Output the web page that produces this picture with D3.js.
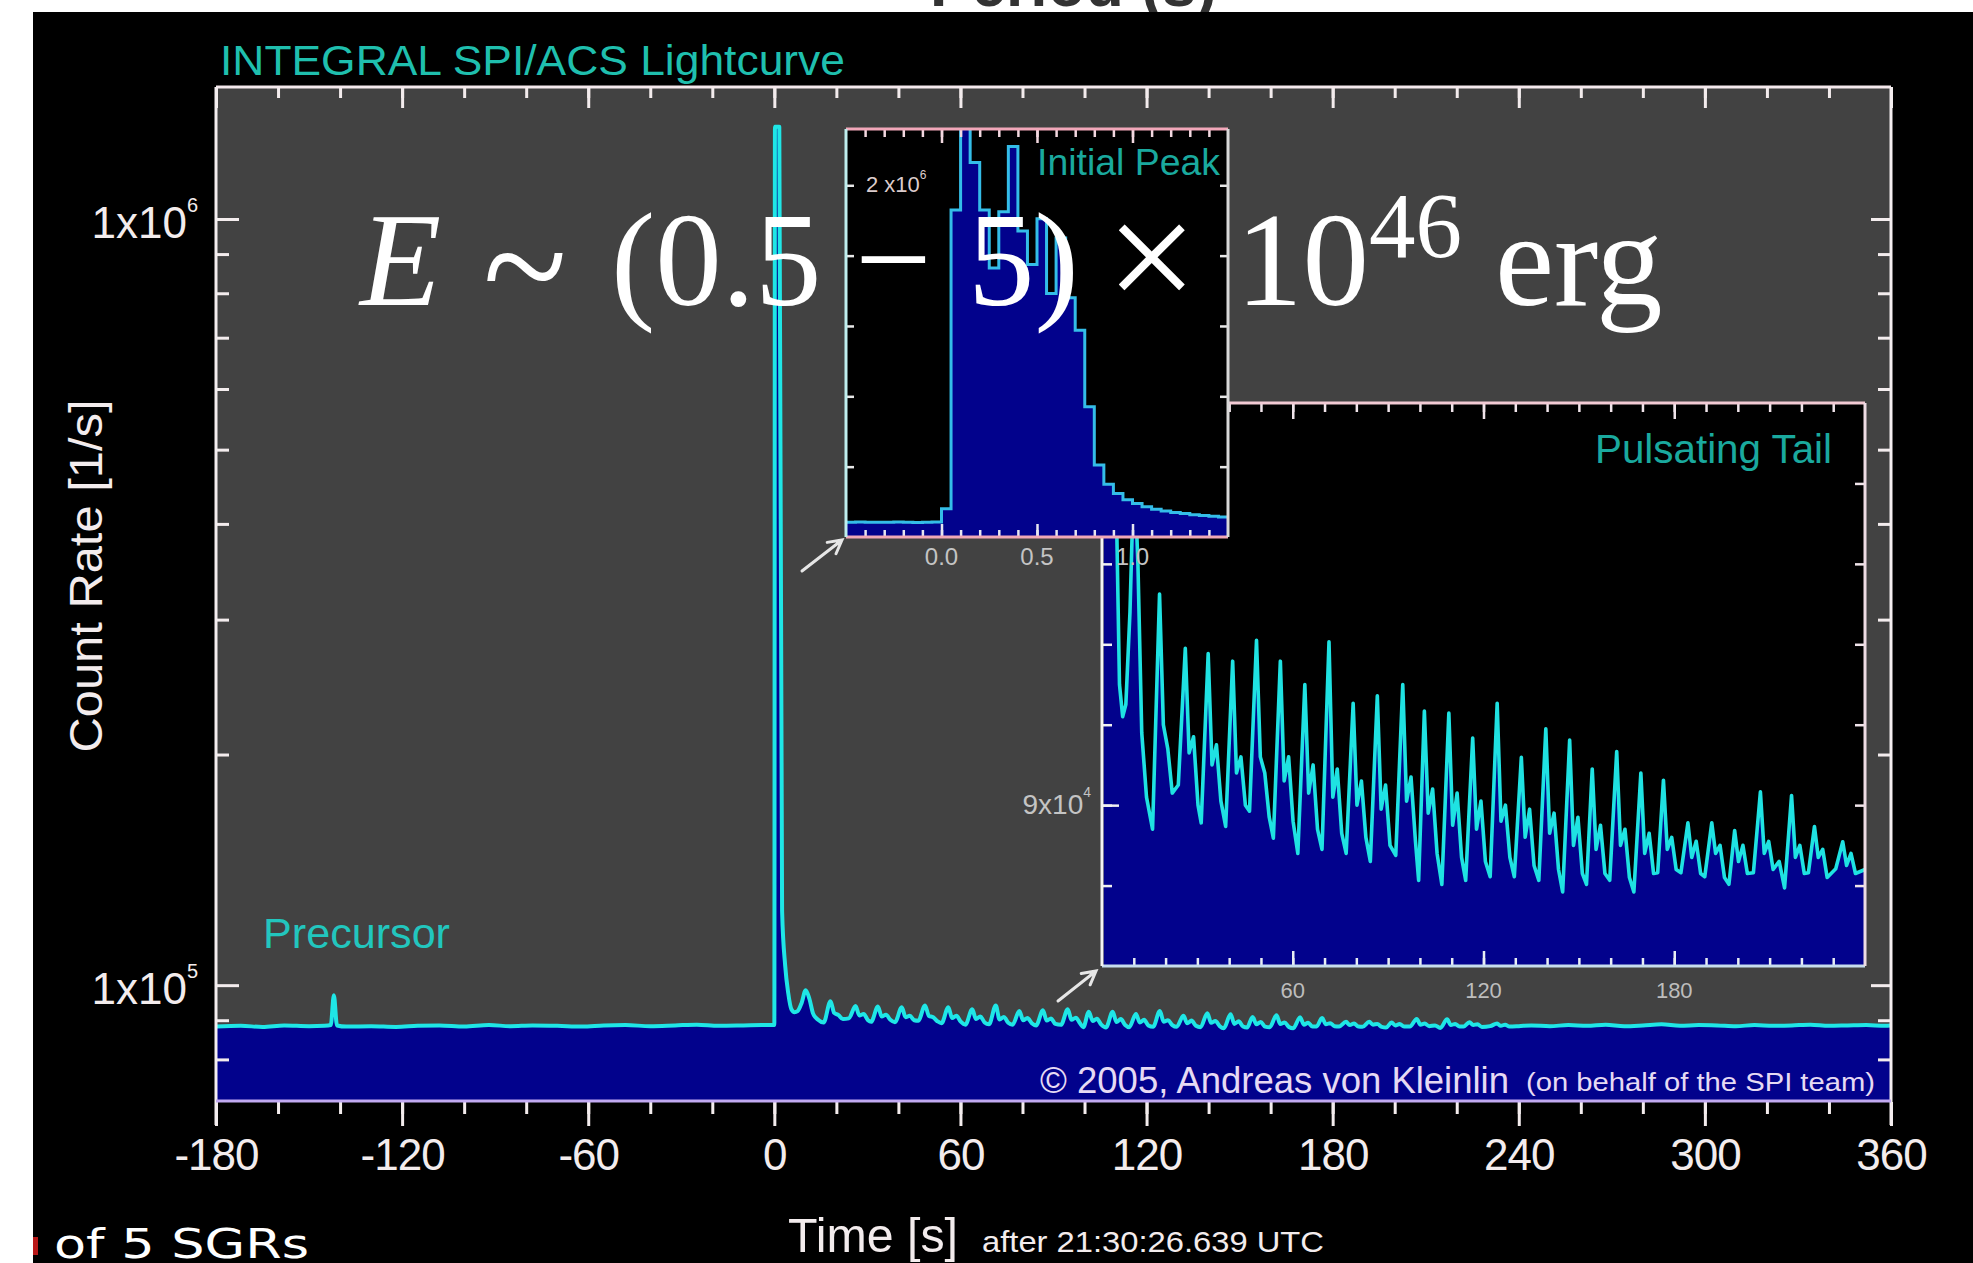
<!DOCTYPE html>
<html><head><meta charset="utf-8">
<script src="https://cdn.jsdelivr.net/npm/d3@7"></script>
<style>
html,body{margin:0;padding:0;background:#fff;}
svg{display:block;}
text{font-family:"Liberation Sans",Arial,Helvetica,sans-serif;}
</style></head><body>
<svg id="chart" width="1973" height="1263"></svg>
<script>
// ---------------- data ----------------
// Pre-burst background (time s, count rate 1/s), incl. precursor at -142 s
const preSamples = [
  [-180, 88300], [-172, 88500], [-165, 88200], [-158, 88600], [-150, 88400],
  [-145, 88500], [-143, 88700], [-142, 97000], [-141, 88600], [-138, 88300],
  [-130, 88400], [-122, 88200], [-115, 88500], [-108, 88600], [-100, 88300],
  [-92, 88700], [-85, 88400], [-78, 88600], [-70, 88500], [-62, 88300],
  [-55, 88600], [-48, 88700], [-40, 88400], [-32, 88600], [-25, 88800],
  [-18, 88500], [-10, 88600], [-4, 88700], [-0.5, 88700]
];
// Main spike at 1 s resolution
const burstSamples = [[0, 88700], [0.2, 1320000], [1.6, 1320000]];
// Pulsating tail (7.56 s period)
const tailSamples = [
  [0.5, 400000], [1.5, 180000], [2.5, 125000], [3.5, 106000], [4.5, 97500],
  [5.5, 93000], [6.5, 92200], [7.5, 92500], [8.8, 94800], [10.1, 98500],
  [11.3, 96000], [12.5, 91800], [14.0, 90200],
  [15.9, 89400], [18.1, 95250], [19.3, 92000], [20.7, 91400], [22.1, 90300],
  [24.0, 90500], [26.2, 93900], [27.4, 91300], [28.8, 91700], [30.2, 90000],
  [31.2, 89560], [33.4, 93770], [34.6, 91000], [36.0, 91500], [37.4, 90100],
  [38.9, 89470], [41.1, 93580], [42.3, 90800], [43.7, 91200], [45.1, 90000],
  [46.4, 89850], [48.6, 94100], [49.8, 91200], [51.2, 90800], [52.6, 89700],
  [53.9, 89180], [56.1, 93580], [57.3, 90600], [58.7, 91200], [60.1, 89600],
  [61.6, 88800], [63.8, 93000], [65.0, 90300], [66.4, 91000], [67.8, 89400],
  [69.2, 88900], [71.4, 94060], [72.6, 90200], [74.0, 90900], [75.4, 89300],
  [76.8, 88800], [79.0, 92530], [80.2, 90000], [81.6, 90600], [83.0, 89200],
  [84.4, 88600], [86.6, 92720], [87.8, 89900], [89.2, 90500], [90.6, 89000],
  [92.4, 88750], [94.6, 93000], [95.8, 90100], [97.2, 90700], [98.6, 89100],
  [99.6, 88130], [101.4, 92340], [102.6, 89800], [104.0, 90400], [105.4, 88800],
  [106.9, 88030], [109.1, 92290], [110.3, 89500], [111.7, 90300], [113.1, 88700],
  [114.4, 88130], [116.6, 91670], [117.8, 89400], [119.2, 90100], [120.6, 88600],
  [122.1, 88220], [124.3, 92530], [125.5, 89600], [126.9, 90000], [128.3, 88700],
  [129.7, 88220], [131.9, 91190], [133.1, 89200], [134.5, 89900], [135.9, 88500],
  [137.4, 88130], [139.6, 91900], [140.8, 89300], [142.2, 89800], [143.6, 88400],
  [144.9, 87840], [147.1, 91620], [148.3, 89000], [149.7, 89700], [151.1, 88300],
  [152.4, 88030], [154.2, 90900], [155.4, 88900], [156.8, 89500], [158.2, 88300],
  [159.7, 88130], [161.9, 91330], [163.1, 89000], [164.5, 89400], [165.9, 88200],
  [167.3, 87840], [169.5, 90800], [170.7, 88800], [172.1, 89300], [173.5, 88300],
  [174.8, 88320], [176.6, 90620], [177.8, 88900], [179.2, 89200], [180.6, 88400],
  [182.1, 88320], [184.3, 89560], [185.5, 88700], [186.9, 89100], [188.3, 88300],
  [189.6, 88220], [191.8, 89560], [193.0, 88800], [194.4, 89000], [195.8, 88200],
  [197.2, 88030], [199.0, 89370], [200.2, 88600], [201.6, 89000], [203.0, 88300],
  [204.9, 88320], [207.1, 90330], [208.3, 88800], [209.7, 89100], [211.1, 88400],
  [213.0, 88600],
  [214.7, 87940], [216.9, 90240], [218.1, 88700], [219.5, 89000], [220.9, 88300],
  [222.2, 88320], [224.1, 89470], [225.3, 88700], [226.7, 88900], [228.1, 88200],
  [230.8, 88420], [233.0, 89090], [234.2, 88500], [235.6, 88800], [237.0, 88300],
  [240.0, 88400]
];
// Late background
const lateSamples = [
  [244, 88600], [250, 88400], [256, 88700], [262, 88500], [268, 88800],
  [274, 88400], [280, 88600], [286, 88900], [292, 88500], [298, 88700],
  [304, 88600], [310, 88400], [316, 88700], [322, 88500], [328, 88600],
  [334, 88800], [340, 88500], [346, 88600], [352, 88700], [358, 88500], [360, 88600]
];
// Initial peak, 50 ms bins
const peakBinStart = [-0.50,-0.45,-0.40,-0.35,-0.30,-0.25,-0.20,-0.15,-0.10,-0.05,
  0.00,0.05,0.10,0.15,0.20,0.25,0.30,0.35,0.40,0.45,
  0.50,0.55,0.60,0.65,0.70,0.75,0.80,0.85,0.90,0.95,
  1.00,1.05,1.10,1.15,1.20,1.25,1.30,1.35,1.40,1.45];
const peakRate = [84000,85000,83500,84500,84000,85500,84000,83000,84500,85000,
  160000,1860000,2450000,2130000,1860000,1530000,1850000,2220000,1740000,1550000,
  1810000,1385000,1700000,1360000,1175000,740000,410000,300000,248000,212000,
  190000,172000,158000,148000,140000,133000,127000,122000,118000,114000];

// ticks and labels
const mainXTicks = [-180, -120, -60, 0, 60, 120, 180, 240, 300, 360];
const mainYTicks = [1e5, 1e6];
const mainYExp = ["5", "6"];
const mainYMinor = [80000, 90000, 200000, 300000, 400000, 500000, 600000, 700000, 800000, 900000];
const tailXTicks = [60, 120, 180];
const tailYTicks = [88000, 90000, 92000, 94000, 96000, 98000];
const peakXTicks = [0.0, 0.5, 1.0];
const peakXLabels = ["0.0", "0.5", "1.0"];
const peakYTicks = [400000, 800000, 1200000, 1600000, 2000000];

// ---------------- drawing ----------------
const W = 1973, H = 1263;
const svg = d3.select("#chart");
const defs = svg.append("defs");

svg.append("rect").attr("width", W).attr("height", H).attr("fill", "#fff");
svg.append("text").text("Period (s)").attr("x", 930).attr("y", 6)
  .attr("font-size", 64).attr("font-weight", "bold").attr("fill", "#333")
  .attr("textLength", 287).attr("lengthAdjust", "spacingAndGlyphs");
svg.append("rect").attr("x", 33).attr("y", 12).attr("width", W - 33).attr("height", H - 12).attr("fill", "#000");
svg.append("rect").attr("x", 33).attr("y", 1237).attr("width", 5).attr("height", 18).attr("fill", "#b81818");

const WHITE = "#f3eced";
const M = {x0: 216, x1: 1891, y0: 87, y1: 1101};
const x = d3.scaleLinear().domain([-180, 360]).range([M.x0, M.x1]);
const y = d3.scaleLog().domain([70600, 1487000]).range([M.y1, M.y0]);

svg.append("rect").attr("x", M.x0).attr("y", M.y0).attr("width", M.x1 - M.x0)
  .attr("height", M.y1 - M.y0).attr("fill", "#424242");

defs.append("clipPath").attr("id", "clipMain").append("rect")
  .attr("x", M.x0).attr("y", M.y0).attr("width", M.x1 - M.x0).attr("height", M.y1 - M.y0);

const mainSeries = []
  .concat(preSamples)
  .concat(burstSamples)
  .concat(tailSamples.filter(d => d[0] >= 2.5))
  .concat(lateSamples);

const gMain = svg.append("g").attr("clip-path", "url(#clipMain)");
gMain.append("path").datum(mainSeries)
  .attr("d", d3.area().x(d => x(d[0])).y0(M.y1).y1(d => y(d[1])))
  .attr("fill", "#02028c");
gMain.append("path").datum(mainSeries)
  .attr("d", d3.line().curve(d3.curveMonotoneX).x(d => x(d[0])).y(d => y(d[1])))
  .attr("fill", "none").attr("stroke", "#1fe6e6").attr("stroke-width", 4)
  .attr("stroke-linejoin", "round");

function tickStyle(sel, color, w) {
  sel.select(".domain").remove();
  sel.selectAll(".tick line").attr("stroke", color).attr("stroke-width", w || 3);
}
const mainMinorX = d3.range(-180, 361, 20);

// bottom axis (ticks outward)
svg.append("g").attr("transform", `translate(0,${M.y1 + 1})`)
  .call(d3.axisBottom(x).tickValues(mainMinorX).tickSize(12).tickFormat(""))
  .call(s => tickStyle(s, WHITE));
const bx = svg.append("g").attr("transform", `translate(0,${M.y1 + 1})`)
  .call(d3.axisBottom(x).tickValues(mainXTicks).tickSize(24).tickPadding(13).tickFormat(d => String(d)))
  .call(s => tickStyle(s, WHITE));
bx.selectAll("text").attr("font-size", 44).attr("fill", WHITE).attr("letter-spacing", -1);

// top axis (ticks inward)
svg.append("g").attr("transform", `translate(0,${M.y0})`)
  .call(d3.axisTop(x).tickValues(mainMinorX).tickSize(-11).tickFormat(""))
  .call(s => tickStyle(s, WHITE));
svg.append("g").attr("transform", `translate(0,${M.y0})`)
  .call(d3.axisTop(x).tickValues(mainXTicks).tickSize(-21).tickFormat(""))
  .call(s => tickStyle(s, WHITE));

// left/right axes (ticks inward)
svg.append("g").attr("transform", `translate(${M.x0},0)`)
  .call(d3.axisLeft(y).tickValues(mainYMinor).tickSize(-13).tickFormat(""))
  .call(s => tickStyle(s, WHITE));
const ly = svg.append("g").attr("transform", `translate(${M.x0},0)`)
  .call(d3.axisLeft(y).tickValues(mainYTicks).tickSize(-23).tickPadding(18).tickFormat(""))
  .call(s => tickStyle(s, WHITE));
ly.selectAll(".tick").each(function(d, i) {
  const t = d3.select(this).append("text").attr("x", -18).attr("dy", "0.42em")
    .attr("text-anchor", "end").attr("fill", WHITE).attr("font-size", 44);
  t.append("tspan").text("1x10");
  t.append("tspan").text(mainYExp[i]).attr("font-size", 20).attr("dy", "-1.3em");
});
svg.append("g").attr("transform", `translate(${M.x1},0)`)
  .call(d3.axisRight(y).tickValues(mainYMinor).tickSize(-13).tickFormat(""))
  .call(s => tickStyle(s, WHITE));
svg.append("g").attr("transform", `translate(${M.x1},0)`)
  .call(d3.axisRight(y).tickValues(mainYTicks).tickSize(-20).tickFormat(""))
  .call(s => tickStyle(s, WHITE));

// frame
const frame = svg.append("g").attr("stroke-width", 3).attr("fill", "none");
frame.append("line").attr("x1", M.x0).attr("x2", M.x1).attr("y1", M.y0).attr("y2", M.y0).attr("stroke", "#f4e8ec");
frame.append("line").attr("x1", M.x0).attr("x2", M.x0).attr("y1", M.y0).attr("y2", M.y1 + 24).attr("stroke", "#f4eef0");
frame.append("line").attr("x1", M.x1).attr("x2", M.x1).attr("y1", M.y0).attr("y2", M.y1 + 24).attr("stroke", "#f4eef0");
frame.append("line").attr("x1", M.x0).attr("x2", M.x1).attr("y1", M.y1).attr("y2", M.y1).attr("stroke", "#c2aaf2");

// plot texts
svg.append("text").text("INTEGRAL SPI/ACS Lightcurve").attr("x", 220).attr("y", 75)
  .attr("font-size", 42).attr("fill", "#1fbfae").attr("textLength", 625).attr("lengthAdjust", "spacingAndGlyphs");
svg.append("text").text("Precursor").attr("x", 263).attr("y", 948)
  .attr("font-size", 42).attr("fill", "#22c6be").attr("textLength", 187).attr("lengthAdjust", "spacingAndGlyphs");
svg.append("text").text("\u00A9 2005, Andreas von Kleinlin").attr("x", 1040).attr("y", 1093)
  .attr("font-size", 36).attr("fill", "#e6daf4").attr("textLength", 469).attr("lengthAdjust", "spacingAndGlyphs");
svg.append("text").text("(on behalf  of the SPI team)").attr("x", 1526).attr("y", 1091)
  .attr("font-size", 25).attr("fill", "#e6daf4").attr("textLength", 349).attr("lengthAdjust", "spacingAndGlyphs");

// ---------------- pulsating tail inset ----------------
const T = {x0: 1102, x1: 1865, y0: 403, y1: 966};
const tx = d3.scaleLinear().domain([0, 240]).range([T.x0, T.x1]);
const ty = d3.scaleLinear().domain([86000, 100000]).range([T.y1, T.y0]);
svg.append("rect").attr("x", T.x0).attr("y", T.y0).attr("width", T.x1 - T.x0).attr("height", T.y1 - T.y0).attr("fill", "#000");
defs.append("clipPath").attr("id", "clipTail").append("rect")
  .attr("x", T.x0).attr("y", T.y0).attr("width", T.x1 - T.x0).attr("height", T.y1 - T.y0);
const gTail = svg.append("g").attr("clip-path", "url(#clipTail)");
gTail.append("path").datum(tailSamples)
  .attr("d", d3.area().x(d => tx(d[0])).y0(T.y1).y1(d => ty(d[1])))
  .attr("fill", "#02028c");
gTail.append("path").datum(tailSamples)
  .attr("d", d3.line().x(d => tx(d[0])).y(d => ty(d[1])))
  .attr("fill", "none").attr("stroke", "#1fe2e2").attr("stroke-width", 3.6).attr("stroke-linejoin", "round");

const tailMinorX = d3.range(10, 240, 10);
svg.append("g").attr("transform", `translate(0,${T.y1})`)
  .call(d3.axisBottom(tx).tickValues(tailMinorX).tickSize(-8).tickFormat(""))
  .call(s => tickStyle(s, "#e8eef4", 2.5));
svg.append("g").attr("transform", `translate(0,${T.y1})`)
  .call(d3.axisBottom(tx).tickValues(tailXTicks).tickSize(-15).tickFormat(""))
  .call(s => tickStyle(s, "#e8eef4", 2.5));
svg.append("g").attr("transform", `translate(0,${T.y0})`)
  .call(d3.axisTop(tx).tickValues(tailMinorX).tickSize(-9).tickFormat(""))
  .call(s => tickStyle(s, "#f0e4ea", 2.5));
svg.append("g").attr("transform", `translate(0,${T.y0})`)
  .call(d3.axisTop(tx).tickValues(tailXTicks).tickSize(-16).tickFormat(""))
  .call(s => tickStyle(s, "#f0e4ea", 2.5));
svg.append("g").attr("transform", `translate(${T.x0},0)`)
  .call(d3.axisLeft(ty).tickValues(tailYTicks).tickSize(-10).tickFormat(""))
  .call(s => tickStyle(s, "#f0f0f0", 2.5));
svg.append("g").attr("transform", `translate(${T.x0},0)`)
  .call(d3.axisLeft(ty).tickValues([90000]).tickSize(-17).tickFormat(""))
  .call(s => tickStyle(s, "#f0f0f0", 2.5));
svg.append("g").attr("transform", `translate(${T.x1},0)`)
  .call(d3.axisRight(ty).tickValues(tailYTicks).tickSize(-10).tickFormat(""))
  .call(s => tickStyle(s, "#f0e4ea", 2.5));

const tframe = svg.append("g").attr("stroke-width", 3);
tframe.append("line").attr("x1", T.x0).attr("x2", T.x1).attr("y1", T.y0).attr("y2", T.y0).attr("stroke", "#f2cad4");
tframe.append("line").attr("x1", T.x0).attr("x2", T.x1).attr("y1", T.y1).attr("y2", T.y1).attr("stroke", "#c6dcee");
tframe.append("line").attr("x1", T.x0).attr("x2", T.x0).attr("y1", T.y0).attr("y2", T.y1).attr("stroke", "#f4f4f4");
tframe.append("line").attr("x1", T.x1).attr("x2", T.x1).attr("y1", T.y0).attr("y2", T.y1).attr("stroke", "#eedce4");

svg.append("g").selectAll("text").data(tailXTicks).join("text")
  .attr("x", d => tx(d)).attr("y", 998).attr("text-anchor", "middle")
  .attr("font-size", 22).attr("fill", "#bdbdbd").text(d => String(d));
const tyl = svg.append("text").attr("x", 1091).attr("y", ty(90000) + 9).attr("text-anchor", "end")
  .attr("font-size", 28).attr("fill", "#c4c4c4");
tyl.append("tspan").text("9x10");
tyl.append("tspan").text("4").attr("font-size", 14).attr("dy", "-1.2em");
svg.append("text").text("Pulsating Tail").attr("x", 1595).attr("y", 463)
  .attr("font-size", 40).attr("fill", "#1aa99e").attr("textLength", 237).attr("lengthAdjust", "spacingAndGlyphs");

// ---------------- initial peak inset ----------------
const P = {x0: 846, x1: 1228, y0: 129, y1: 537};
const px = d3.scaleLinear().domain([-0.5, 1.5]).range([P.x0, P.x1]);
const py = d3.scaleLinear().domain([0, 2320000]).range([P.y1, P.y0]);
svg.append("rect").attr("x", P.x0).attr("y", P.y0).attr("width", P.x1 - P.x0).attr("height", P.y1 - P.y0).attr("fill", "#000");
defs.append("clipPath").attr("id", "clipPeak").append("rect")
  .attr("x", P.x0).attr("y", P.y0).attr("width", P.x1 - P.x0).attr("height", P.y1 - P.y0);
const peakSteps = peakBinStart.map((t, i) => [t, peakRate[i]]);
peakSteps.push([1.5, peakRate[peakRate.length - 1]]);
const gPeak = svg.append("g").attr("clip-path", "url(#clipPeak)");
gPeak.append("path").datum(peakSteps)
  .attr("d", d3.area().curve(d3.curveStepAfter).x(d => px(d[0])).y0(P.y1).y1(d => py(d[1])))
  .attr("fill", "#02028c");
gPeak.append("path").datum(peakSteps)
  .attr("d", d3.line().curve(d3.curveStepAfter).x(d => px(d[0])).y(d => py(d[1])))
  .attr("fill", "none").attr("stroke", "#34bde8").attr("stroke-width", 3);

const peakMinorX = d3.range(-0.4, 1.45, 0.1);
svg.append("g").attr("transform", `translate(0,${P.y0})`)
  .call(d3.axisTop(px).tickValues(peakMinorX).tickSize(-8).tickFormat(""))
  .call(s => tickStyle(s, "#f2d8e0", 2.5));
svg.append("g").attr("transform", `translate(0,${P.y0})`)
  .call(d3.axisTop(px).tickValues(peakXTicks).tickSize(-14).tickFormat(""))
  .call(s => tickStyle(s, "#f2d8e0", 2.5));
svg.append("g").attr("transform", `translate(0,${P.y1})`)
  .call(d3.axisBottom(px).tickValues(peakMinorX).tickSize(-7).tickFormat(""))
  .call(s => tickStyle(s, "#e6e6f0", 2.5));
svg.append("g").attr("transform", `translate(0,${P.y1})`)
  .call(d3.axisBottom(px).tickValues(peakXTicks).tickSize(-13).tickFormat(""))
  .call(s => tickStyle(s, "#e6e6f0", 2.5));
svg.append("g").attr("transform", `translate(${P.x0},0)`)
  .call(d3.axisLeft(py).tickValues(peakYTicks).tickSize(-8).tickFormat(""))
  .call(s => tickStyle(s, "#e8e8e8", 2.5));
svg.append("g").attr("transform", `translate(${P.x1},0)`)
  .call(d3.axisRight(py).tickValues(peakYTicks).tickSize(-8).tickFormat(""))
  .call(s => tickStyle(s, "#e8e8e8", 2.5));

const pframe = svg.append("g").attr("stroke-width", 3);
pframe.append("line").attr("x1", P.x0).attr("x2", P.x1).attr("y1", P.y0).attr("y2", P.y0).attr("stroke", "#f2a8ba");
pframe.append("line").attr("x1", P.x0).attr("x2", P.x1).attr("y1", P.y1).attr("y2", P.y1).attr("stroke", "#f0a8b8");
pframe.append("line").attr("x1", P.x0).attr("x2", P.x0).attr("y1", P.y0).attr("y2", P.y1).attr("stroke", "#bfeeee");
pframe.append("line").attr("x1", P.x1).attr("x2", P.x1).attr("y1", P.y0).attr("y2", P.y1).attr("stroke", "#d8d8d8");

svg.append("g").selectAll("text").data(peakXTicks).join("text")
  .attr("x", d => px(d)).attr("y", 565).attr("text-anchor", "middle")
  .attr("font-size", 24).attr("fill", "#c4c4c4").text((d, i) => peakXLabels[i]);
const pyl = svg.append("text").attr("x", 866).attr("y", py(2000000) + 7)
  .attr("font-size", 22).attr("fill", "#dccccc");
pyl.append("tspan").text("2 x10");
pyl.append("tspan").text("6").attr("font-size", 12).attr("dy", "-1.1em");
svg.append("text").text("Initial Peak").attr("x", 1037).attr("y", 175)
  .attr("font-size", 36).attr("fill", "#1aa99e").attr("textLength", 183).attr("lengthAdjust", "spacingAndGlyphs");

// zoom arrows
function arrow(x1, y1, x2, y2) {
  const a = Math.atan2(y2 - y1, x2 - x1), L = 15, s = 0.5;
  const d = `M${x1},${y1}L${x2},${y2}` +
    `M${x2 - L * Math.cos(a - s)},${y2 - L * Math.sin(a - s)}L${x2},${y2}` +
    `L${x2 - L * Math.cos(a + s)},${y2 - L * Math.sin(a + s)}`;
  svg.append("path").attr("d", d).attr("stroke", "#e6e6e6").attr("stroke-width", 3)
    .attr("fill", "none").attr("stroke-linecap", "round");
}
arrow(802, 571, 842, 540);
arrow(1058, 1001, 1096, 971);

// axis titles
svg.append("text").text("Count Rate [1/s]")
  .attr("transform", "translate(102,576) rotate(-90)").attr("text-anchor", "middle")
  .attr("font-size", 46).attr("fill", WHITE).attr("textLength", 353).attr("lengthAdjust", "spacingAndGlyphs");
svg.append("text").text("Time [s]").attr("x", 788).attr("y", 1252)
  .attr("font-size", 48).attr("fill", WHITE).attr("textLength", 170).attr("lengthAdjust", "spacingAndGlyphs");
svg.append("text").text("after 21:30:26.639 UTC").attr("x", 982).attr("y", 1252)
  .attr("font-size", 30).attr("fill", WHITE).attr("textLength", 342).attr("lengthAdjust", "spacingAndGlyphs");
svg.append("text").text("of 5 SGRs").attr("x", 54).attr("y", 1258)
  .style("font-family", "'DejaVu Sans', Verdana, sans-serif")
  .attr("font-size", 40).attr("fill", "#fff").attr("textLength", 255).attr("lengthAdjust", "spacingAndGlyphs");

// energy annotation
const serif = "'Liberation Serif','Times New Roman',Times,serif";
const eq = svg.append("g").attr("fill", "#fff");
function eqText(str, xx, yy, size, extra) {
  const t = eq.append("text").text(str).attr("x", xx).attr("y", yy).attr("font-size", size)
    .style("font-family", serif);
  if (extra) extra(t);
  return t;
}
eqText("E", 360, 305, 133, t => t.attr("font-style", "italic"));
eqText("~", 483, 322, 168, t => t.attr("textLength", 84).attr("lengthAdjust", "spacingAndGlyphs"));
eqText("(0.5", 611, 305, 133);
eqText("\u2212", 855, 305, 136);
eqText("5)", 968, 305, 133);
eqText("\u00D7", 1106, 311, 162);
eqText("10", 1236, 305, 133);
eqText("46", 1369, 257, 93);
eqText("erg", 1495, 305, 133);
</script>
</body></html>
